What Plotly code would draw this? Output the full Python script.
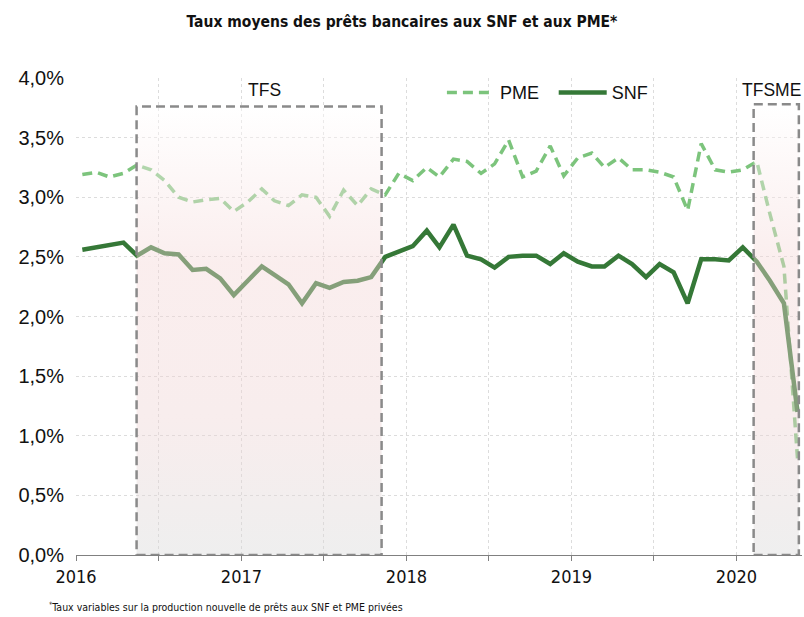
import pandas as pd
import plotly.graph_objects as go

# ---- data -------------------------------------------------------------
MONTHS = [d.strftime("%Y-%m-15") for d in pd.date_range("2016-01-01", "2020-05-01", freq="MS")]

SNF = [2.56, 2.58, 2.60, 2.62, 2.51, 2.58, 2.53, 2.52, 2.39, 2.40, 2.32, 2.18,
       2.30, 2.42, 2.35, 2.27, 2.11, 2.28, 2.24, 2.29, 2.30, 2.33, 2.50, 2.54,
       2.59, 2.72, 2.58, 2.77, 2.51, 2.48, 2.41, 2.50, 2.51, 2.51, 2.44, 2.53,
       2.46, 2.42, 2.42, 2.51, 2.44, 2.33, 2.44, 2.37, 2.11, 2.48, 2.48, 2.47,
       2.58, 2.46, 2.30, 2.11, 1.20]

PME = [3.19, 3.21, 3.17, 3.20, 3.27, 3.23, 3.14, 3.00, 2.96, 2.98, 2.99, 2.88,
       2.96, 3.07, 2.97, 2.93, 3.02, 3.00, 2.84, 3.06, 2.93, 3.07, 3.02, 3.20,
       3.14, 3.25, 3.17, 3.32, 3.30, 3.20, 3.28, 3.48, 3.17, 3.22, 3.43, 3.18,
       3.33, 3.37, 3.25, 3.33, 3.23, 3.23, 3.21, 3.17, 2.89, 3.45, 3.23, 3.21,
       3.23, 3.30, 2.86, 2.42, 0.81]

Y_TICKS = [0, 0.5, 1.0, 1.5, 2.0, 2.5, 3.0, 3.5, 4.0]
Y_LABELS = ["0,0%", "0,5%", "1,0%", "1,5%", "2,0%", "2,5%", "3,0%", "3,5%", "4,0%"]

X_TICKS = ["2016-01-01", "2016-07-01", "2017-01-01", "2017-07-01", "2018-01-01",
           "2018-07-01", "2019-01-01", "2019-07-01", "2020-01-01"]
X_LABELS = ["2016", "", "2017", "", "2018", "", "2019", "", "2020"]

# periods (shaded boxes)
TFS = {"name": "TFS", "start": "2016-05-14", "end": "2017-11-07", "top": 3.76, "label_x": "2017-02-20"}
TFSME = {"name": "TFSME", "start": "2020-02-08", "end": "2020-05-18", "top": 3.78, "label_x": "2020-03-19"}

SNF_COLOR = "#357837"
PME_COLOR = "#7cc47c"
NARROW = "DejaVu Sans Condensed, Liberation Sans Narrow, sans-serif"
SANS = "Liberation Sans, Arial, sans-serif"

fig = go.Figure()

fig.add_trace(go.Scatter(x=MONTHS, y=PME, name="PME", mode="lines", legend="legend",
                         line=dict(color=PME_COLOR, width=3.5, dash="10px,6px")))
fig.add_trace(go.Scatter(x=MONTHS, y=SNF, name="SNF", mode="lines", legend="legend2",
                         line=dict(color=SNF_COLOR, width=4.5)))

grad = [[0.0, "rgba(216,216,216,0.42)"],
        [0.3, "rgba(238,212,212,0.42)"],
        [0.65, "rgba(244,214,214,0.42)"],
        [1.0, "rgba(255,255,255,0.42)"]]

for p in (TFS, TFSME):
    fig.add_trace(go.Scatter(
        x=[p["start"], p["start"], p["end"], p["end"], p["start"]],
        y=[0, p["top"], p["top"], 0, 0],
        mode="lines", fill="toself", line=dict(width=0),
        fillgradient=dict(type="vertical", colorscale=grad),
        showlegend=False, hoverinfo="skip"))
    fig.add_shape(type="rect", xref="x", yref="y",
                  x0=p["start"], x1=p["end"], y0=0, y1=p["top"],
                  line=dict(color="#8a8a8a", width=2.5, dash="9px,5px"),
                  fillcolor="rgba(0,0,0,0)", layer="above")
    fig.add_annotation(x=p["label_x"], y=3.90, xref="x", yref="y",
                       text=p["name"], showarrow=False,
                       font=dict(family=SANS, size=17.5, color="#111111"))

fig.add_annotation(xref="paper", yref="paper", x=-0.040, y=-0.107,
                   xanchor="left", yanchor="middle", showarrow=False,
                   text="<sup>*</sup>Taux variables sur la production nouvelle de prêts aux SNF et PME privées",
                   font=dict(family=NARROW, size=10.5, color="#111111"))

legend_common = dict(orientation="h", y=1.008, yanchor="top",
                     font=dict(family=SANS, size=18, color="#111111"),
                     itemwidth=48, bgcolor="rgba(0,0,0,0)", borderwidth=0)

fig.update_layout(
    width=804, height=617,
    margin=dict(l=76, r=2, t=78, b=62),
    paper_bgcolor="white", plot_bgcolor="white",
    title=dict(text="<b>Taux moyens des prêts bancaires aux SNF et aux PME*</b>",
               x=0.5, xanchor="center", y=0.965, yanchor="middle",
               font=dict(family=NARROW, size=15.5, color="#111111")),
    legend=dict(x=0.504, xanchor="left", **legend_common),
    legend2=dict(x=0.658, xanchor="left", **legend_common),
    showlegend=True,
)

fig.update_xaxes(type="date", range=["2016-01-01", "2020-05-25"],
                 tickmode="array", tickvals=X_TICKS, ticktext=X_LABELS,
                 ticks="outside", ticklen=5, tickcolor="#808080",
                 showline=True, linecolor="#808080", linewidth=1,
                 showgrid=True, gridcolor="#dcdcdc", griddash="dot", gridwidth=1,
                 tickfont=dict(family=NARROW, size=18, color="#111111"),
                 zeroline=False, automargin=False)

fig.update_yaxes(range=[0, 4.0], tickmode="array", tickvals=Y_TICKS, ticktext=Y_LABELS,
                 showgrid=True, gridcolor="#dcdcdc", griddash="dot", gridwidth=1,
                 showline=False, zeroline=False, ticks="",
                 ticklabelstandoff=11, automargin=False,
                 tickfont=dict(family=SANS, size=20, color="#111111"))

fig.write_html("out.html",
               config={"displayModeBar": False},
               post_script="document.body.style.margin='0';document.body.style.padding='0';")
